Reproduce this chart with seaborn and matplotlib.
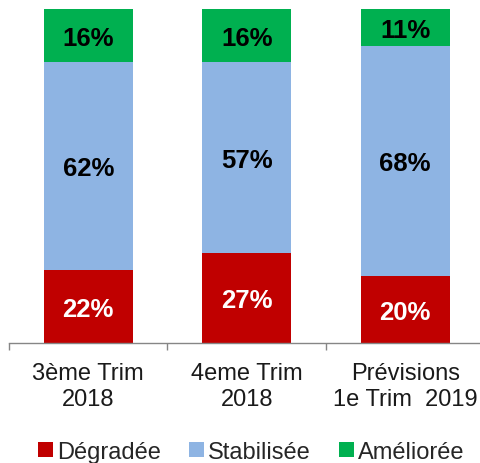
import numpy as np
import pandas as pd
import seaborn as sns
import matplotlib.pyplot as plt
from matplotlib.patches import Patch

categories = ["3ème Trim\n2018", "4eme Trim\n2018", "Prévisions\n1e Trim  2019"]
degradee = [22, 27, 20]
stabilisee = [62, 57, 68]
amelioree = [16, 16, 11]

series = ["Dégradée", "Stabilisée", "Améliorée"]
colors = {"Dégradée": "#C00000", "Stabilisée": "#8EB4E3", "Améliorée": "#00B050"}
text_colors = {"Dégradée": "white", "Stabilisée": "black", "Améliorée": "black"}

sns.set_theme(style="white")
plt.rcParams['font.family'] = ['Liberation Sans', 'DejaVu Sans']

df = pd.DataFrame({"cat": categories, "Dégradée": degradee,
                   "Stabilisée": stabilisee, "Améliorée": amelioree})
total = df[series].sum(axis=1)
share = df[series].div(total, axis=0)
cum = share.cumsum(axis=1)

fig = plt.figure(figsize=(4.8, 4.64), dpi=100)
ax = fig.add_axes([9 / 480, 120 / 464, 475.5 / 480, 334 / 464])

# stacked bars drawn as overlapping cumulative totals, tallest first
for name in reversed(series):
    sns.barplot(x=df["cat"], y=cum[name], color=colors[name], saturation=1,
                width=0.56, linewidth=0, ax=ax)

for i in range(len(df)):
    for name in series:
        top = cum.loc[i, name]
        mid = top - share.loc[i, name] / 2
        ax.text(i, mid, f"{df.loc[i, name]}%", ha="center", va="center_baseline",
                fontsize=18.5, fontweight="bold", color=text_colors[name])

ax.set_xlim(-0.5, 2.5)
ax.set_ylim(0, 1)
ax.set_xlabel("")
ax.set_ylabel("")
ax.set_yticks([])
for s in ["top", "left", "right"]:
    ax.spines[s].set_visible(False)
ax.spines["bottom"].set_color("#868686")
ax.spines["bottom"].set_linewidth(1.0)

ax.set_xticks([0, 1, 2])
ax.set_xticklabels(categories, fontsize=17, color="#1a1a1a", linespacing=1.25)
ax.set_xticks([-0.5, 0.5, 1.5, 2.5], minor=True)
ax.tick_params(axis="x", which="major", length=0, pad=13.5)
ax.tick_params(axis="x", which="minor", length=5, width=1.0, color="#868686",
               direction="out", bottom=True)

handles = [Patch(facecolor=colors[n], edgecolor="none", label=n) for n in series]
fig.legend(handles=handles, loc="center", bbox_to_anchor=(0.523, 0.024), ncol=3,
           frameon=False, fontsize=17, handlelength=0.65, handleheight=0.65,
           handletextpad=0.15, columnspacing=1.2, borderpad=0)

fig.savefig("out.png", dpi=100)
